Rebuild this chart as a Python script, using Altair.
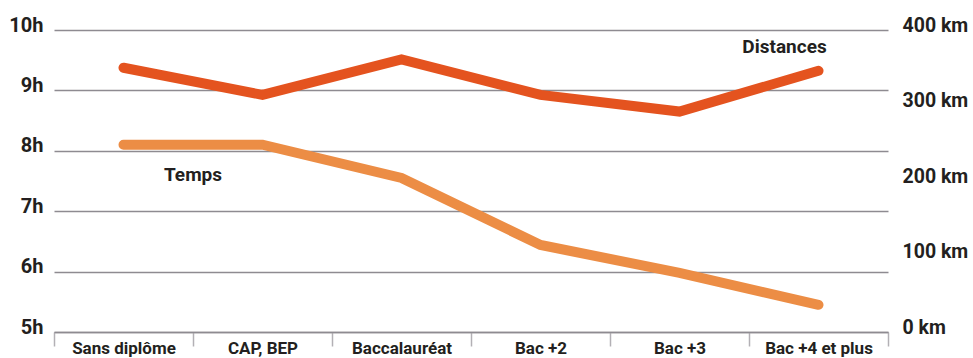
import altair as alt
import pandas as pd

# Niveaux de diplôme (axe horizontal)
categories = ["Sans diplôme", "CAP, BEP", "Baccalauréat", "Bac +2", "Bac +3", "Bac +4 et plus"]
# Temps passé (heures, axe de gauche)
temps_h = [8.1, 8.1, 7.55, 6.44, 5.98, 5.45]
# Distances parcourues (km, axe de droite)
distances_km = [350, 314, 361, 314, 292, 346]

hour_ticks = [5, 6, 7, 8, 9, 10]
km_ticks = [0, 100, 200, 300, 400]

# Annotation positions (category, value)
temps_label = {"label": "Temps", "niveau": "Sans diplôme", "temps": 7.6}
dist_label = {"label": "Distances", "niveau": "Bac +4 et plus", "distance": 379}

TEXT = "#231f20"
GRID = "#8e8b91"
C_DIST = "#e4531f"
C_TEMPS = "#ec8d45"

df = pd.DataFrame({"niveau": categories, "temps": temps_h, "distance": distances_km})

x_scale = alt.Scale(type="band", paddingInner=0, paddingOuter=0, domain=categories)
x_axis = alt.Axis(
    title=None, tickBand="extent", tickSize=14, tickColor="#b3b0b5", tickWidth=1.5,
    domainColor=GRID, domainWidth=1.5, labelFontSize=17, labelPadding=-6,
    labelAngle=0, labelLimit=0, grid=False,
)

y_temps = alt.Y(
    "temps:Q",
    scale=alt.Scale(domain=[5, 10], nice=False, zero=False),
    axis=alt.Axis(
        title=None, values=hour_ticks, labelExpr="datum.value + 'h'",
        grid=True, gridColor=GRID, gridWidth=1.5, domain=False, ticks=False,
        labelFontSize=20, labelPadding=11, labelBaseline="alphabetic", labelOffset=1,
    ),
)
y_dist = alt.Y(
    "distance:Q",
    scale=alt.Scale(domain=[0, 400], nice=False),
    axis=alt.Axis(
        title=None, orient="right", values=km_ticks, labelExpr="datum.value + ' km'",
        grid=False, domain=False, ticks=False,
        labelFontSize=19.5, labelPadding=14, labelBaseline="alphabetic", labelOffset=1,
    ),
)

base = alt.Chart(df)

temps_line = base.mark_line(color=C_TEMPS, strokeWidth=10, strokeCap="round").encode(
    x=alt.X("niveau:N", scale=x_scale, axis=x_axis, sort=categories),
    y=y_temps,
)
temps_text = alt.Chart(pd.DataFrame([temps_label])).mark_text(
    font="Roboto", fontWeight="bold", fontSize=19, color=TEXT
).encode(
    x=alt.X("niveau:N", scale=x_scale, axis=x_axis, sort=categories, bandPosition=1),
    y=y_temps,
    text="label:N",
)

dist_line = base.mark_line(color=C_DIST, strokeWidth=10, strokeCap="round").encode(
    x=alt.X("niveau:N", scale=x_scale, axis=x_axis, sort=categories),
    y=y_dist,
)
dist_text = alt.Chart(pd.DataFrame([dist_label])).mark_text(
    font="Roboto", fontWeight="bold", fontSize=19, color=TEXT, dx=-34, dy=1
).encode(
    x=alt.X("niveau:N", scale=x_scale, axis=x_axis, sort=categories),
    y=y_dist,
    text="label:N",
)

chart = (
    alt.layer(alt.layer(temps_line, temps_text), alt.layer(dist_line, dist_text))
    .resolve_scale(y="independent")
    .properties(
        width=834, height=302,
        autosize=alt.AutoSizeParams(type="none"),
        padding={"left": 54, "top": 30, "right": 85, "bottom": 26},
        background="white",
    )
    .configure_view(stroke=None)
    .configure_axis(labelFont="Roboto", labelFontWeight="bold", labelColor=TEXT)
)

chart.save("out.html", embed_options={"renderer": "svg", "actions": False})
